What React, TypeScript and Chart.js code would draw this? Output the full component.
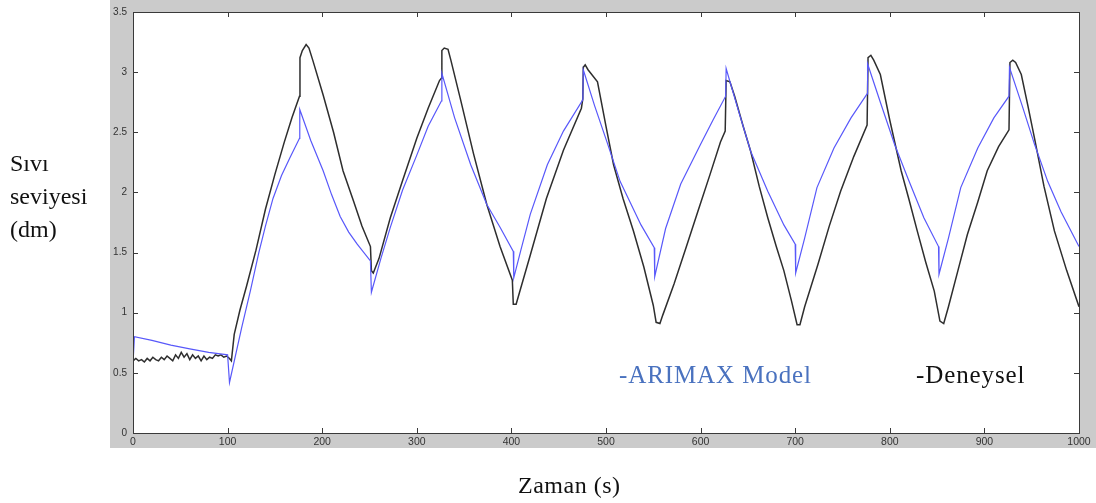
import React, { useEffect, useRef } from "react";
import { Chart, registerables } from "chart.js";

Chart.register(...registerables);

// ARIMAX model series (time s, level dm)
const modelTime = [0, 1.5, 20, 40, 60, 80, 100, 102, 115, 124, 133, 140, 148, 157, 166, 176, 176.3, 188, 201, 210, 219, 228, 237, 251, 252, 262, 272, 285, 300, 312, 326, 326.5, 340, 357, 374, 388, 402, 402.5, 410, 420, 438, 455, 475.5, 476, 488, 501, 515, 537, 551, 551.5, 563, 579, 600, 613, 626.5, 627, 640, 653, 671, 688, 700, 700.5, 710, 723, 741, 759, 776, 776.5, 790, 805, 819, 836, 851.5, 852, 862, 875, 893, 910, 926, 926.5, 940, 953, 967, 981, 1000];
const modelLevel = [0.58, 0.8, 0.77, 0.73, 0.7, 0.67, 0.65, 0.42, 0.88, 1.18, 1.5, 1.72, 1.95, 2.14, 2.29, 2.45, 2.69, 2.43, 2.18, 1.98, 1.8, 1.67, 1.57, 1.43, 1.17, 1.45, 1.71, 2.02, 2.31, 2.55, 2.76, 2.99, 2.62, 2.23, 1.9, 1.71, 1.51, 1.29, 1.52, 1.82, 2.23, 2.51, 2.77, 3.02, 2.72, 2.42, 2.09, 1.73, 1.54, 1.3, 1.7, 2.07, 2.4, 2.6, 2.8, 3.03, 2.68, 2.34, 2.01, 1.73, 1.57, 1.33, 1.62, 2.04, 2.37, 2.62, 2.82, 3.07, 2.75, 2.4, 2.12, 1.79, 1.55, 1.32, 1.62, 2.04, 2.37, 2.62, 2.8, 3.04, 2.72, 2.4, 2.09, 1.84, 1.55];

// Experimental series (time s, level dm)
const expTime = [0, 3, 6, 9, 12, 15, 18, 21, 24, 27, 30, 33, 36, 39, 42, 45, 48, 51, 54, 57, 60, 63, 66, 69, 72, 75, 78, 81, 84, 87, 90, 93, 96, 99, 102, 104, 107, 113, 120, 130, 140, 150, 160, 168, 176, 176.5, 179, 183, 186, 190, 201, 212, 222, 233, 242, 251, 252, 254, 260, 272, 285, 300, 312, 324, 326, 326.5, 329, 333, 336, 346, 360, 374, 388, 401, 402, 405, 409, 420, 437, 455, 474, 475.5, 476, 478, 481, 491, 500, 508, 518, 529, 540, 550, 553, 557, 560, 572, 585, 597, 610, 621, 626, 627, 631, 636, 645, 653, 662, 671, 680, 688, 696, 702, 705, 710, 724, 736, 748, 762, 776, 777, 780, 783, 790, 800, 812, 820, 829, 838, 847, 853, 857, 862, 872, 882, 893, 903, 915, 926, 927, 930, 933, 939, 946, 953, 963, 974, 987, 1000];
const expLevel = [0.6, 0.62, 0.6, 0.61, 0.59, 0.62, 0.6, 0.63, 0.61, 0.6, 0.63, 0.61, 0.64, 0.62, 0.6, 0.65, 0.62, 0.67, 0.63, 0.66, 0.61, 0.65, 0.62, 0.64, 0.6, 0.64, 0.61, 0.63, 0.62, 0.65, 0.64, 0.65, 0.63, 0.64, 0.62, 0.6, 0.82, 1.02, 1.22, 1.52, 1.86, 2.15, 2.42, 2.62, 2.8, 3.12, 3.18, 3.23, 3.2, 3.1, 2.81, 2.5, 2.18, 1.93, 1.72, 1.55, 1.35, 1.33, 1.45, 1.79, 2.1, 2.45, 2.7, 2.93, 2.95, 3.18, 3.2, 3.19, 3.1, 2.78, 2.32, 1.9, 1.55, 1.27, 1.07, 1.07, 1.18, 1.48, 1.95, 2.35, 2.7, 2.78, 3.04, 3.06, 3.02, 2.92, 2.55, 2.23, 1.95, 1.68, 1.38, 1.06, 0.92, 0.91, 0.98, 1.24, 1.55, 1.84, 2.15, 2.42, 2.51, 2.93, 2.92, 2.8, 2.55, 2.34, 2.05, 1.79, 1.55, 1.35, 1.1, 0.9, 0.9, 1.05, 1.4, 1.72, 2.01, 2.3, 2.56, 3.12, 3.14, 3.1, 2.98, 2.6, 2.18, 1.95, 1.68, 1.42, 1.18, 0.93, 0.91, 1.05, 1.35, 1.65, 1.92, 2.18, 2.38, 2.52, 3.08, 3.1, 3.08, 2.98, 2.72, 2.45, 2.05, 1.68, 1.35, 1.05];

const xTicks = [0, 100, 200, 300, 400, 500, 600, 700, 800, 900, 1000];
const yTicks = [0, 0.5, 1, 1.5, 2, 2.5, 3, 3.5];

const matlabBox = {
  id: "matlabBox",
  beforeDraw(chart: any) {
    const { ctx, chartArea: a } = chart;
    ctx.save();
    ctx.fillStyle = "#ffffff";
    ctx.fillRect(a.left, a.top, a.right - a.left, a.bottom - a.top);
    ctx.restore();
  },
  afterDatasetsDraw(chart: any) {
    const { ctx, chartArea: a, scales } = chart;
    ctx.save();
    ctx.strokeStyle = "#3a3a3a";
    ctx.lineWidth = 1;
    ctx.strokeRect(Math.round(a.left) + 0.5, Math.round(a.top) + 0.5, Math.round(a.right - a.left), Math.round(a.bottom - a.top));
    const tl = 5;
    ctx.beginPath();
    xTicks.forEach((v) => {
      const x = Math.round(scales.x.getPixelForValue(v)) + 0.5;
      ctx.moveTo(x, a.bottom);
      ctx.lineTo(x, a.bottom - tl);
      ctx.moveTo(x, a.top);
      ctx.lineTo(x, a.top + tl);
    });
    yTicks.forEach((v) => {
      const y = Math.round(scales.y.getPixelForValue(v)) + 0.5;
      ctx.moveTo(a.left, y);
      ctx.lineTo(a.left + tl, y);
      ctx.moveTo(a.right, y);
      ctx.lineTo(a.right - tl, y);
    });
    ctx.stroke();
    ctx.restore();
  },
};

export default function App() {
  const ref = useRef<HTMLCanvasElement | null>(null);
  useEffect(() => {
    if (!ref.current) return;
    const chart = new Chart(ref.current, {
      type: "line",
      data: {
        datasets: [
          {
            label: "ARIMAX Model",
            data: modelTime.map((t, i) => ({ x: t, y: modelLevel[i] })),
            borderColor: "rgb(88,88,250)",
            borderWidth: 1.2,
            pointRadius: 0,
            tension: 0,
          },
          {
            label: "Deneysel",
            data: expTime.map((t, i) => ({ x: t, y: expLevel[i] })),
            borderColor: "#2e2e2e",
            borderWidth: 1.5,
            pointRadius: 0,
            tension: 0,
          },
        ],
      },
      options: {
        animation: false,
        responsive: false,
        maintainAspectRatio: false,
        devicePixelRatio: 1,
        layout: { padding: { left: 110, top: 10, right: 17, bottom: 55 } },
        plugins: { legend: { display: false }, tooltip: { enabled: false } },
        scales: {
          x: {
            type: "linear",
            min: 0,
            max: 1000,
            afterFit: (s: any) => { s.height = 15; },
            afterBuildTicks: (s: any) => { s.ticks = xTicks.map((v) => ({ value: v })); },
            grid: { display: false, drawTicks: false },
            border: { display: false },
            ticks: { padding: 3, color: "#333", font: { family: "Liberation Sans", size: 10.5 }, maxRotation: 0, callback: (v: any) => String(v) },
          },
          y: {
            type: "linear",
            min: 0,
            max: 3.5,
            afterFit: (s: any) => { s.width = 23; },
            afterBuildTicks: (s: any) => { s.ticks = yTicks.map((v) => ({ value: v })); },
            grid: { display: false, drawTicks: false },
            border: { display: false },
            ticks: { padding: 6, color: "#333", font: { family: "Liberation Sans", size: 10 }, callback: (v: any) => String(v) },
          },
        },
      },
      plugins: [matlabBox],
    });
    return () => chart.destroy();
  }, []);

  const serif = { fontFamily: "'Liberation Serif', 'Times New Roman', serif", position: "absolute" as const, whiteSpace: "nowrap" as const };

  return (
    <div style={{ position: "absolute", left: 0, top: 0, width: 1096, height: 503, background: "#fff", overflow: "hidden" }}>
      <div style={{ position: "absolute", left: 110, top: 0, width: 986, height: 448, background: "#cbcbcb" }} />
      <canvas ref={ref} width={1096} height={503} style={{ position: "absolute", left: 0, top: 0, width: 1096, height: 503 }} />
      <div style={{ ...serif, left: 10, top: 147, fontSize: 24, lineHeight: "33px", color: "#111" }}>
        Sıvı<br />seviyesi<br />(dm)
      </div>
      <div style={{ ...serif, left: 518, top: 473, fontSize: 24, lineHeight: "24px", letterSpacing: 0.5, color: "#111" }}>Zaman (s)</div>
      <div style={{ ...serif, left: 619, top: 362, fontSize: 25, lineHeight: "25px", letterSpacing: 0.9, color: "#4a72bf" }}>-ARIMAX Model</div>
      <div style={{ ...serif, left: 916, top: 362, fontSize: 25, lineHeight: "25px", letterSpacing: 0.9, color: "#111" }}>-Deneysel</div>
    </div>
  );
}
